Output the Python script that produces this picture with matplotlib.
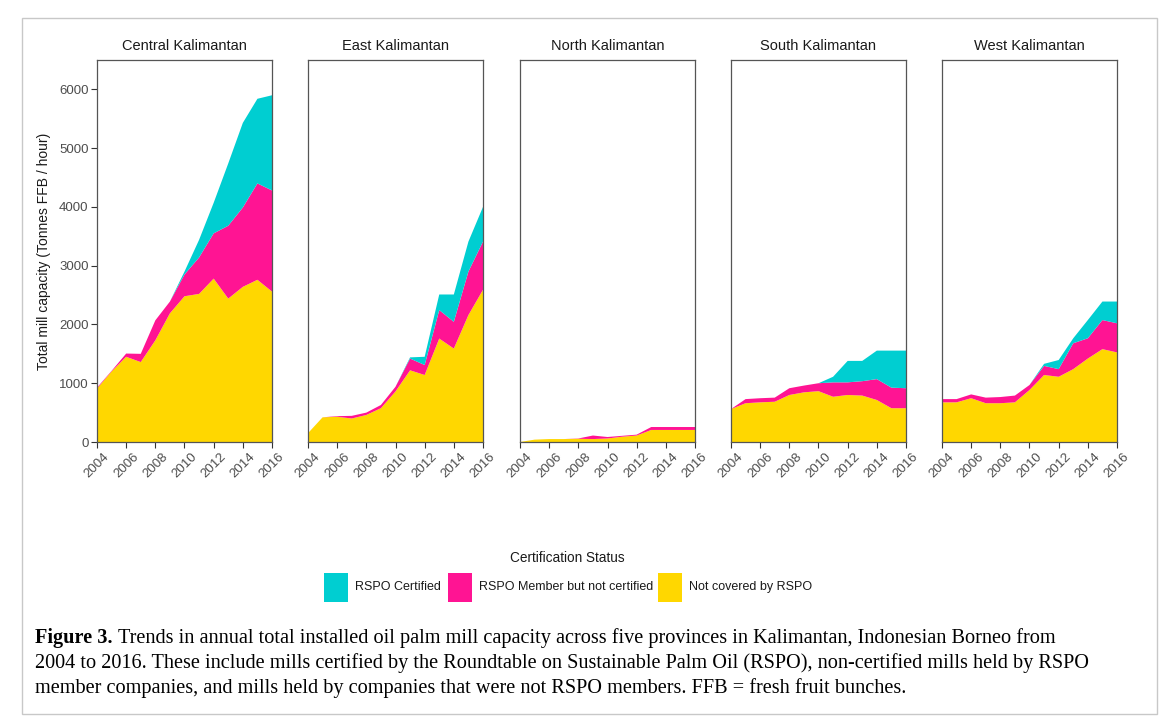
import numpy as np
import matplotlib
matplotlib.use('Agg')
import matplotlib.pyplot as plt
import matplotlib.transforms as mtransforms
from matplotlib.patches import Rectangle

plt.rcParams['font.family'] = ['Liberation Sans', 'DejaVu Sans']

years = list(range(2004, 2017))
provinces = ['Central Kalimantan', 'East Kalimantan', 'North Kalimantan',
             'South Kalimantan', 'West Kalimantan']

# capacity per status, tonnes FFB / hour
not_covered = {
    'Central Kalimantan': [910, 1200, 1450, 1360, 1730, 2190, 2480, 2520, 2780, 2440, 2640, 2760, 2560],
    'East Kalimantan':    [150, 420, 430, 400, 460, 575, 860, 1220, 1140, 1760, 1590, 2160, 2590],
    'North Kalimantan':   [0, 40, 50, 50, 55, 50, 60, 90, 110, 205, 205, 205, 205],
    'South Kalimantan':   [560, 660, 675, 685, 800, 845, 865, 770, 800, 790, 715, 575, 575],
    'West Kalimantan':    [675, 675, 745, 660, 660, 675, 885, 1140, 1110, 1240, 1420, 1580, 1525],
}
member_not_cert = {
    'Central Kalimantan': [15, 10, 55, 140, 340, 200, 370, 620, 770, 1240, 1350, 1640, 1720],
    'East Kalimantan':    [0, 0, 10, 45, 40, 55, 80, 200, 170, 485, 455, 740, 820],
    'North Kalimantan':   [0, 0, 0, 0, 5, 60, 25, 15, 15, 50, 50, 50, 50],
    'South Kalimantan':   [0, 70, 70, 70, 115, 115, 135, 245, 215, 245, 355, 350, 340],
    'West Kalimantan':    [55, 55, 65, 95, 105, 115, 85, 155, 130, 440, 345, 495, 495],
}
certified = {
    'Central Kalimantan': [0, 0, 0, 0, 0, 0, 50, 300, 520, 1060, 1440, 1440, 1620],
    'East Kalimantan':    [0, 0, 0, 0, 0, 0, 0, 20, 140, 265, 465, 510, 590],
    'North Kalimantan':   [0, 0, 0, 0, 0, 0, 0, 0, 0, 0, 0, 0, 0],
    'South Kalimantan':   [0, 0, 0, 0, 0, 0, 0, 95, 365, 345, 485, 630, 640],
    'West Kalimantan':    [0, 0, 0, 0, 0, 0, 0, 35, 155, 85, 310, 315, 370],
}
xticks = [2004, 2006, 2008, 2010, 2012, 2014, 2016]
yticks = [0, 1000, 2000, 3000, 4000, 5000, 6000]

status_labels = ['RSPO Certified', 'RSPO Member but not certified', 'Not covered by RSPO']
col_cert, col_member, col_not = '#00CED1', '#FF1493', '#FFD700'

W, H = 1165, 716
fig = plt.figure(figsize=(W / 100, H / 100), dpi=100)

# outer frame
fig.patches.append(Rectangle((22 / W, 1 - 714 / H), 1135 / W, 696 / H, transform=fig.transFigure,
                             fill=False, edgecolor='#c8c8c8', lw=1.0))

lefts = [97, 308, 520, 731, 942]
pw, top, bottom = 175, 60, 442
grey = '#4d4d4d'
shift = mtransforms.ScaledTranslation(4 / 100, 0, fig.dpi_scale_trans)
for i, prov in enumerate(provinces):
	ax = fig.add_axes([lefts[i] / W, 1 - bottom / H, pw / W, (bottom - top) / H])
	ax.stackplot(years, not_covered[prov], member_not_cert[prov], certified[prov],
	             colors=[col_not, col_member, col_cert], lw=0)
	ax.set_xlim(2004, 2016)
	ax.set_ylim(0, 6500)
	ax.set_xticks(xticks)
	ax.set_xticklabels([str(t) for t in xticks], rotation=45, ha='center', va='top',
	                   fontsize=9.5, color=grey)
	for lab in ax.get_xticklabels():
		lab.set_transform(lab.get_transform() + shift)
	ax.tick_params(axis='x', length=4, width=0.8, color='#333333', pad=2)
	if i == 0:
		ax.set_yticks(yticks)
		ax.set_yticklabels([str(t) for t in yticks], fontsize=9.5, color=grey)
		ax.tick_params(axis='y', length=4, width=0.8, color='#333333', pad=2)
		ax.set_ylabel('Total mill capacity (Tonnes FFB / hour)', fontsize=10, color='#1a1a1a', labelpad=6)
	else:
		ax.set_yticks([])
	for s in ax.spines.values():
		s.set_color('#555555')
		s.set_linewidth(0.9)
	ax.set_title(prov, fontsize=10.5, color='#1a1a1a', pad=7)

# legend
fig.text(567 / W, 1 - 558 / H, 'Certification Status', ha='center', va='center', fontsize=9.8, color='#1a1a1a')
key_x = [324, 448, 658]
for kx, lab, c in zip(key_x, status_labels, [col_cert, col_member, col_not]):
	fig.patches.append(Rectangle((kx / W, 1 - 602 / H), 24 / W, 29 / H, transform=fig.transFigure,
	                             facecolor=c, edgecolor='none'))
	fig.text((kx + 31) / W, 1 - 587 / H, lab, ha='left', va='center', fontsize=9, color='#1a1a1a')

# caption
cap_font = 'Liberation Serif'
cap_size = 14.6
y1 = 1 - 643 / H
t = fig.text(35 / W, y1, 'Figure 3.', fontsize=cap_size, family=cap_font, weight='bold', va='baseline')
fig.canvas.draw()
bb = t.get_window_extent()
fig.text((bb.x1 + 5) / W, y1,
         'Trends in annual total installed oil palm mill capacity across five provinces in Kalimantan, Indonesian Borneo from',
         fontsize=cap_size, family=cap_font, va='baseline')
fig.text(35 / W, 1 - 668 / H,
         '2004 to 2016. These include mills certified by the Roundtable on Sustainable Palm Oil (RSPO), non-certified mills held by RSPO',
         fontsize=cap_size, family=cap_font, va='baseline')
fig.text(35 / W, 1 - 693 / H,
         'member companies, and mills held by companies that were not RSPO members. FFB = fresh fruit bunches.',
         fontsize=cap_size, family=cap_font, va='baseline')

fig.savefig('out.png', dpi=100)
